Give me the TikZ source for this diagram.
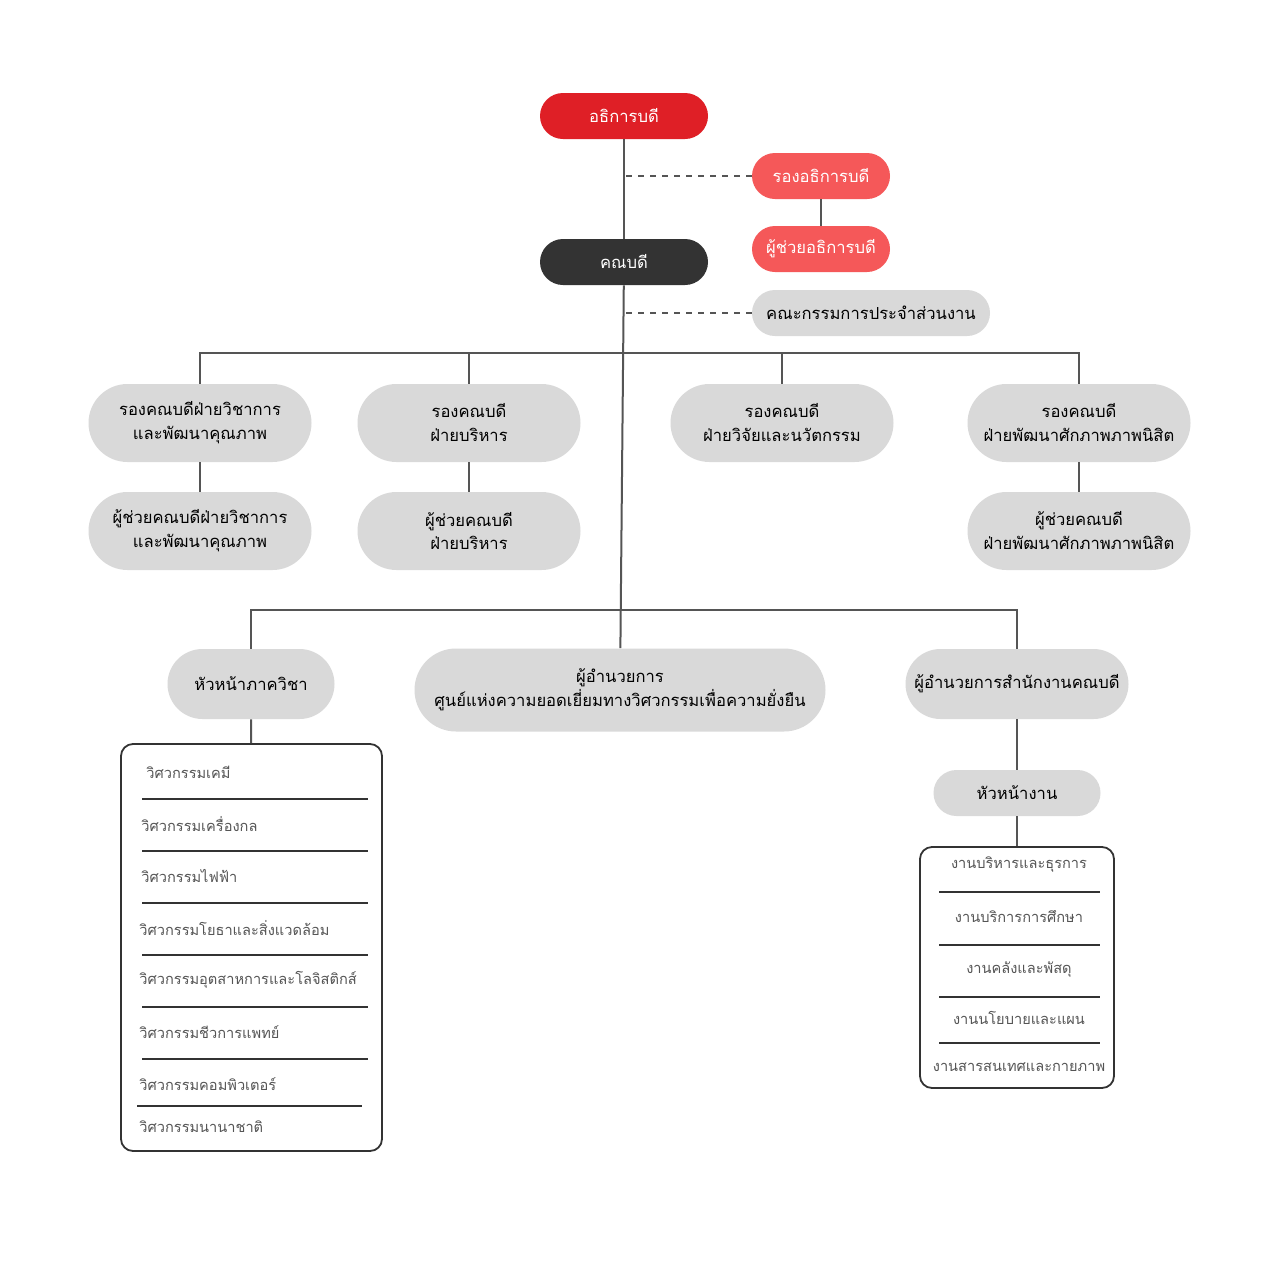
\documentclass[tikz,border=0pt]{standalone}
\usepackage{fontspec}
\setmainfont[Script=Thai]{Loma}
\usetikzlibrary{positioning}
\definecolor{redtop}{HTML}{DF1F26}
\definecolor{redsub}{HTML}{F55859}
\definecolor{darkbox}{HTML}{333333}
\definecolor{graybox}{HTML}{D9D9D9}
\definecolor{lineclr}{HTML}{555555}
\newcommand{\thsize}{\fontsize{8.3}{12}\selectfont}
\tikzset{
  pill/.style={rounded corners=11.5pt,minimum width=84pt,minimum height=23pt,inner sep=0pt,font=\thsize},
  topbox/.style={pill,fill=redtop,text=white},
  subred/.style={pill,fill=redsub,text=white,minimum width=69pt},
  deanbox/.style={pill,fill=darkbox,text=white},
  unitbox/.style={fill=graybox,rounded corners=19.5pt,minimum width=111.5pt,minimum height=39pt,
    align=center,inner sep=0pt,font=\thsize},
  conn/.style={draw=lineclr,line width=1pt},
  listbox/.style={draw=darkbox,line width=0.9pt,rounded corners=6pt,fill=white,inner sep=0pt},
  item/.style={text=lineclr,inner sep=0pt,font=\fontsize{7.3}{9}\selectfont}
}
\begin{document}
\begin{tikzpicture}[x=0.5pt,y=-0.5pt]
\useasboundingbox[fill=white] (0,0) rectangle (1280,1280);
% top level
\node[topbox] (rector) at (624,116) {อธิการบดี};
\node[subred] (vprector) at (821,176) {รองอธิการบดี};
\node[subred] (asrector) at (821,249) {ผู้ช่วยอธิการบดี};
\node[deanbox] (dean) at (624,262) {คณบดี};
\node[pill,fill=graybox,minimum width=119pt] (board) at (871,313) {คณะกรรมการประจำส่วนงาน};
\draw[conn] (rector) -- (dean);
\draw[conn] (vprector) -- (asrector);
\draw[conn,dashed] (vprector.west) -- (vprector.west -| rector.south);
\draw[conn,dashed] (board.west) -- (board.west -| dean.south);
% associate deans
\node[unitbox] (vpacad) at (200,423) {รองคณบดีฝ่ายวิชาการ\\และพัฒนาคุณภาพ};
\node[unitbox] (vpadmin) at (469,423) {รองคณบดี\\ฝ่ายบริหาร};
\node[unitbox] (vpres) at (782,423) {รองคณบดี\\ฝ่ายวิจัยและนวัตกรรม};
\node[unitbox] (vpstud) at (1079,423) {รองคณบดี\\ฝ่ายพัฒนาศักภาพภาพนิสิต};
\node[unitbox] (asacad) at (200,531) {ผู้ช่วยคณบดีฝ่ายวิชาการ\\และพัฒนาคุณภาพ};
\node[unitbox] (asadmin) at (469,531) {ผู้ช่วยคณบดี\\ฝ่ายบริหาร};
\node[unitbox] (asstud) at (1079,531) {ผู้ช่วยคณบดี\\ฝ่ายพัฒนาศักภาพภาพนิสิต};
\coordinate (bar1) at (624,353);
\draw[conn] (vpacad.north) |- (bar1) -| (vpstud.north);
\draw[conn] (vpadmin.north) -- (vpadmin.north |- bar1);
\draw[conn] (vpres.north) -- (vpres.north |- bar1);
\foreach \a/\b in {vpacad/asacad,vpadmin/asadmin,vpstud/asstud}
  \draw[conn] (\a) -- (\b);
% heads
\node[unitbox,minimum width=83.5pt,minimum height=35pt,rounded corners=17.5pt] (headdept) at (251,684) {หัวหน้าภาควิชา};
\node[unitbox,minimum width=205.5pt,minimum height=41.5pt,rounded corners=20.75pt] (center) at (620,690)
  {ผู้อำนวยการ\\ศูนย์แห่งความยอดเยี่ยมทางวิศวกรรมเพื่อความยั่งยืน};
\node[unitbox,minimum width=111.5pt,minimum height=35pt,rounded corners=17.5pt] (office) at (1017,684) {ผู้อำนวยการสำนักงานคณบดี};
\coordinate (bar2) at (621,610);
\draw[conn] (dean) -- (center);
\draw[conn] (headdept.north) |- (bar2) -| (office.north);
% departments
\node[listbox,minimum width=130.5pt,minimum height=203.5pt] (deptlist) at (251.5,947.5) {};
\draw[conn] (headdept) -- (deptlist);
\foreach \t/\x/\y in {วิศวกรรมเคมี/146/772,วิศวกรรมเครื่องกล/141/824,วิศวกรรมไฟฟ้า/141/876,
  วิศวกรรมโยธาและสิ่งแวดล้อม/139/928,วิศวกรรมอุตสาหการและโลจิสติกส์/139/980,
  วิศวกรรมชีวการแพทย์/139/1032,วิศวกรรมคอมพิวเตอร์/139/1084,วิศวกรรมนานาชาติ/139/1127}
  \node[item,anchor=west] at (\x,\y) {\t};
\foreach \y in {799,851,903,955,1007,1059}
  \draw[draw=darkbox,line width=0.9pt] (142,\y) -- (368,\y);
\draw[draw=darkbox,line width=0.9pt] (137,1106) -- (362,1106);
% office units
\node[pill,fill=graybox,minimum width=83.5pt] (headunit) at (1017,793) {หัวหน้างาน};
\node[listbox,minimum width=97pt,minimum height=120.5pt] (unitlist) at (1017,967.5) {};
\draw[conn] (office) -- (headunit);
\draw[conn] (headunit) -- (unitlist);
\foreach \t/\y in {งานบริหารและธุรการ/865,งานบริการการศึกษา/917,งานคลังและพัสดุ/970,
  งานนโยบายและแผน/1018,งานสารสนเทศและกายภาพ/1067}
  \node[item] at (1019,\y) {\t};
\foreach \y in {892,945,997,1043}
  \draw[draw=darkbox,line width=0.9pt] (939,\y) -- (1100,\y);
\end{tikzpicture}
\end{document}
